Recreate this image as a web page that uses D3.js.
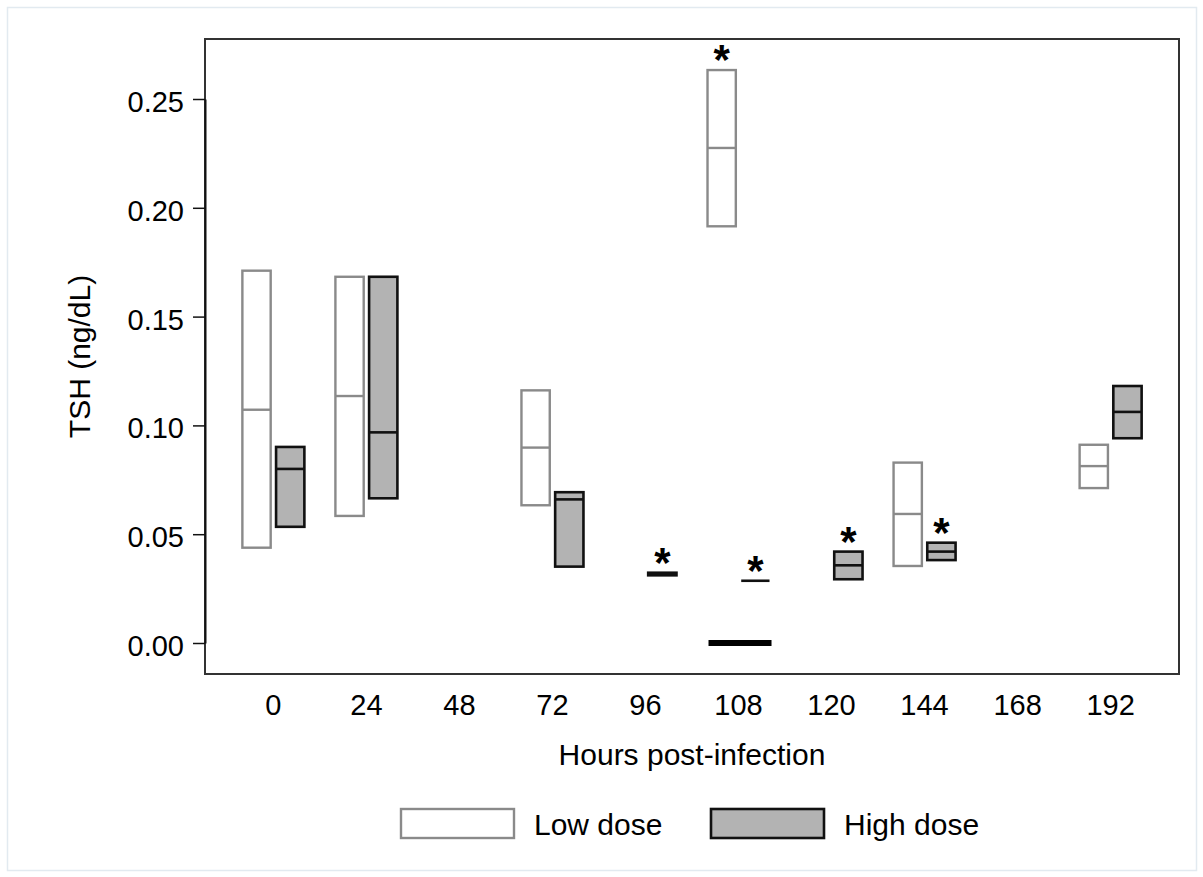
<!DOCTYPE html>
<meta charset="utf-8">
<title>TSH by hours post-infection</title>
<script src="https://d3js.org/d3.v7.min.js"></script>
<style>
body {
	margin: 0;
	background: #fff;
}
</style>
<body>
<script>
// Categories on the x axis
const hours = ['0', '24', '48', '72', '96', '108', '120', '144', '168', '192'];
const serieNames = ['Low dose', 'High dose'];

// [q1, median, q3] per hour, null where nothing was drawn
const lowDose = [
	[0.0438, 0.1072, 0.1711],
	[0.0584, 0.1135, 0.1683],
	null,
	[0.0633, 0.0898, 0.1161],
	null,
	[0.1915, 0.2275, 0.2633],
	null,
	[0.0354, 0.0593, 0.0829],
	null,
	[0.0712, 0.0813, 0.0911],
];
const highDose = [
	[0.0534, 0.0800, 0.0901],
	[0.0665, 0.0968, 0.1683],
	null,
	[0.0351, 0.0660, 0.0693],
	[0.0311, 0.0317, 0.0323],
	[0.0286, 0.0286, 0.0286],
	[0.0293, 0.0357, 0.0420],
	[0.0381, 0.0420, 0.0461],
	null,
	[0.0941, 0.1062, 0.1181],
];
// Hours marked with a star
const lowStars = ['108'];
const highStars = ['96', '108', '120', '144'];
// Black bar drawn at zero
const zeroBars = [{ hour: '108', value: 0 }];

const yTicks = [0, 0.05, 0.10, 0.15, 0.20, 0.25];

const fontFamily = "'Liberation Sans', Arial, sans-serif";
const tickFont = 29;
const titleFont = 30;
const lowStroke = '#8a8a8a';
const highStroke = '#111';
const highFill = '#b3b3b3';

const width = 1203;
const height = 877;
const plot = { left: 205, right: 1179, top: 39, bottom: 674 };

const svg = d3.select('body')
	.append('svg')
		.attr('width', width)
		.attr('height', height)
		.attr('font-family', fontFamily);

// Outer frame
svg.append('rect')
	.attr('x', 7.5)
	.attr('y', 7.5)
	.attr('width', 1189)
	.attr('height', 863)
	.attr('fill', 'none')
	.attr('stroke', '#e2eaf0')
	.attr('stroke-width', 1.5);

const x = d3.scalePoint()
	.domain(hours)
	.range([plot.left, plot.right])
	.padding(0.735);
const dose = d3.scaleBand()
	.domain(serieNames)
	.range([-31, 31])
	.paddingInner(0.16);
const y = d3.scaleLinear()
	.domain([0, 0.25])
	.range([643, 99]);

// Plot frame
svg.append('rect')
	.attr('x', plot.left)
	.attr('y', plot.top)
	.attr('width', plot.right - plot.left)
	.attr('height', plot.bottom - plot.top)
	.attr('fill', 'none')
	.attr('stroke', '#333')
	.attr('stroke-width', 2);

// Y axis
const leftAxis = svg.append('g')
	.attr('transform', `translate(${plot.left}, 0)`)
	.call(
		d3.axisLeft(y)
			.tickValues(yTicks)
			.tickFormat(d3.format('.2f'))
			.tickSizeInner(12)
			.tickSizeOuter(0)
			.tickPadding(9)
	);
leftAxis.select('.domain')
	.attr('stroke', '#111')
	.attr('stroke-width', 2);
leftAxis.selectAll('line')
	.attr('stroke', '#111')
	.attr('stroke-width', 1.5);
leftAxis.selectAll('text')
	.attr('font-size', tickFont)
	.attr('font-family', fontFamily)
	.attr('fill', '#000')
	.attr('dy', '0.43em');

// X tick labels (no tick marks)
svg.append('g')
	.selectAll('text')
	.data(hours)
	.join('text')
		.attr('x', d => x(d))
		.attr('y', plot.bottom + 41)
		.attr('text-anchor', 'middle')
		.attr('font-size', tickFont)
		.text(d => d);

// Axis titles
svg.append('text')
	.attr('x', (plot.left + plot.right) / 2)
	.attr('y', 765)
	.attr('text-anchor', 'middle')
	.attr('font-size', titleFont)
	.text('Hours post-infection');
svg.append('text')
	.attr('transform', `translate(90, ${(plot.top + plot.bottom) / 2}) rotate(-90)`)
	.attr('text-anchor', 'middle')
	.attr('font-size', titleFont)
	.text('TSH (ng/dL)');

function addBoxes(values, name, stroke, fill, strokeWidth) {
	const rows = hours
		.map((hour, i) => ({ hour, v: values[i] }))
		.filter(d => d.v);
	const left = d => x(d.hour) + dose(name);
	const g = svg.append('g');
	g.selectAll('rect')
		.data(rows)
		.join('rect')
			.attr('x', left)
			.attr('y', d => y(d.v[2]))
			.attr('width', dose.bandwidth())
			.attr('height', d => y(d.v[0]) - y(d.v[2]))
			.attr('fill', fill)
			.attr('stroke', stroke)
			.attr('stroke-width', strokeWidth);
	g.selectAll('line')
		.data(rows)
		.join('line')
			.attr('x1', left)
			.attr('x2', d => left(d) + dose.bandwidth())
			.attr('y1', d => y(d.v[1]))
			.attr('y2', d => y(d.v[1]))
			.attr('stroke', stroke)
			.attr('stroke-width', strokeWidth);
}

function addStars(starHours, values, name) {
	svg.append('g')
		.selectAll('text')
		.data(starHours)
		.join('text')
			.attr('x', d => x(d) + dose(name) + dose.bandwidth() / 2)
			.attr('y', d => y(values[hours.indexOf(d)][2]) + 4)
			.attr('text-anchor', 'middle')
			.attr('font-size', 42)
			.attr('font-weight', 'bold')
			.text('*');
}

addBoxes(lowDose, serieNames[0], lowStroke, '#fff', 2.4);
addBoxes(highDose, serieNames[1], highStroke, highFill, 2.6);

// Zero bar spanning both doses
svg.append('g')
	.selectAll('line')
	.data(zeroBars)
	.join('line')
		.attr('x1', d => x(d.hour) + dose(serieNames[0]) + 1)
		.attr('x2', d => x(d.hour) + dose(serieNames[1]) + dose.bandwidth() + 2)
		.attr('y1', d => y(d.value))
		.attr('y2', d => y(d.value))
		.attr('stroke', '#000')
		.attr('stroke-width', 6);

addStars(lowStars, lowDose, serieNames[0]);
addStars(highStars, highDose, serieNames[1]);

// Legend
const legendX = [401, 711];
const legend = svg.append('g')
	.selectAll('g')
	.data(serieNames)
	.join('g')
		.attr('transform', (d, i) => `translate(${legendX[i]}, 809)`);
legend.append('rect')
	.attr('width', 113)
	.attr('height', 29)
	.attr('fill', (d, i) => i ? highFill : '#fff')
	.attr('stroke', (d, i) => i ? highStroke : lowStroke)
	.attr('stroke-width', (d, i) => i ? 2.6 : 2.4);
legend.append('text')
	.attr('x', 133)
	.attr('y', 26)
	.attr('font-size', titleFont)
	.text(d => d);
</script>
</body>
